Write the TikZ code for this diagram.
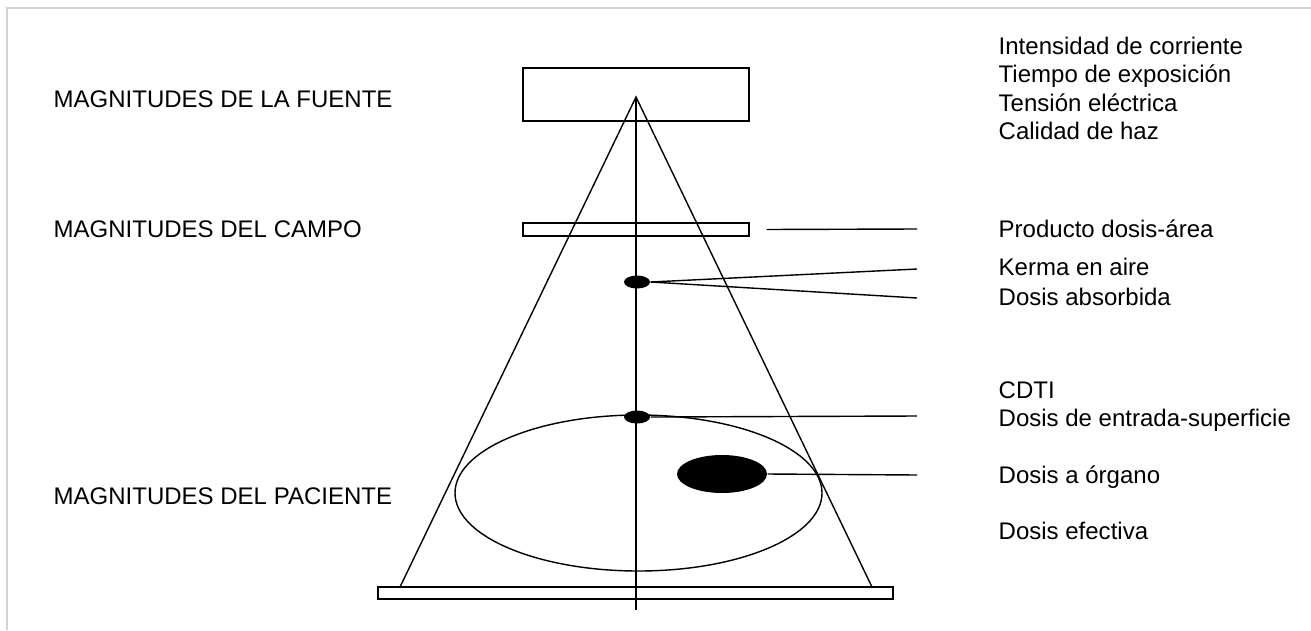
\documentclass[tikz,border=0pt]{standalone}
\usepackage{fontspec}
\setmainfont{Liberation Sans}
\usetikzlibrary{shapes.geometric,positioning}
\definecolor{framegray}{RGB}{210,210,210}

\begin{document}
\begin{tikzpicture}[x=0.2mm, y=-0.2mm, line width=0.8pt,
  every node/.style={font=\fontsize{13.66}{16.2}\selectfont},
  lbl/.style={anchor=base west, inner sep=0pt},
  plate/.style={rectangle, draw, inner sep=0pt, minimum width=45.2mm},
  dot/.style={ellipse, fill, inner sep=0pt, minimum width=5.2mm, minimum height=2.6mm}]
\useasboundingbox (0,0) rectangle (1311,630);
\draw[framegray, line width=0.4mm] (7,630) -- (7,8) -- (1311,8);

% tube, collimator and detector
\node[plate, minimum height=10.6mm] (source) at (636,94.5) {};
\node[plate, minimum height=2.6mm] (field) at (636,229.5) {};
\node[rectangle, draw, inner sep=0pt, minimum width=103mm, minimum height=2.4mm] (detector) at (635.5,593) {};

% beam
\coordinate (focus) at (636,97);
\coordinate (footL) at (400,587);
\coordinate (footR) at (872,587);
\coordinate (axisEnd) at (636,610);
\draw (footL) -- (focus) -- (footR);
\draw (focus) -- (axisEnd);

% patient
\node[ellipse, draw, inner sep=0pt, minimum width=73.4mm, minimum height=31.2mm] (patient) at (638.5,493) {};
\node[dot] (kerma) at (637,282) {};
\node[dot] (entrance) at (637,417) {};
\node[ellipse, fill, inner sep=0pt, minimum width=18mm, minimum height=7.6mm] (organ) at (722,474) {};

% leader lines
\coordinate (campoEnd) at (917,229);
\coordinate (kermaEnd) at (917,269);
\coordinate (doseEnd) at (917,298);
\coordinate (entranceEnd) at (917,416);
\coordinate (organEnd) at (917,475);
\draw ([xshift=3.4mm]field.east) -- (campoEnd);
\draw (kerma.east) -- (kermaEnd);
\draw (kerma.east) -- (doseEnd);
\draw (entrance.east) -- (entranceEnd);
\draw (organ.east) -- (organEnd);

% left labels
\node[lbl] (fuente) at (53,107) {MAGNITUDES DE LA FUENTE};
\node[lbl] (campo) at (53,237) {MAGNITUDES DEL CAMPO};
\node[lbl] (paciente) at (53,504) {MAGNITUDES DEL PACIENTE};

% right labels
\node[lbl] (intensidad) at (998,54) {Intensidad de corriente};
\node[lbl] (tiempo) at (998,82) {Tiempo de exposición};
\node[lbl] (tension) at (998,111) {Tensión eléctrica};
\node[lbl] (calidad) at (998,139) {Calidad de haz};
\node[lbl] (pda) at (998,237) {Producto dosis-área};
\node[lbl] (kermaLbl) at (998,275) {Kerma en aire};
\node[lbl] (absorbida) at (998,305) {Dosis absorbida};
\node[lbl] (cdti) at (998,398) {CDTI};
\node[lbl] (entrada) at (998,426) {Dosis de entrada-superficie};
\node[lbl] (organo) at (998,483) {Dosis a órgano};
\node[lbl] (efectiva) at (998,539) {Dosis efectiva};
\end{tikzpicture}
\end{document}
